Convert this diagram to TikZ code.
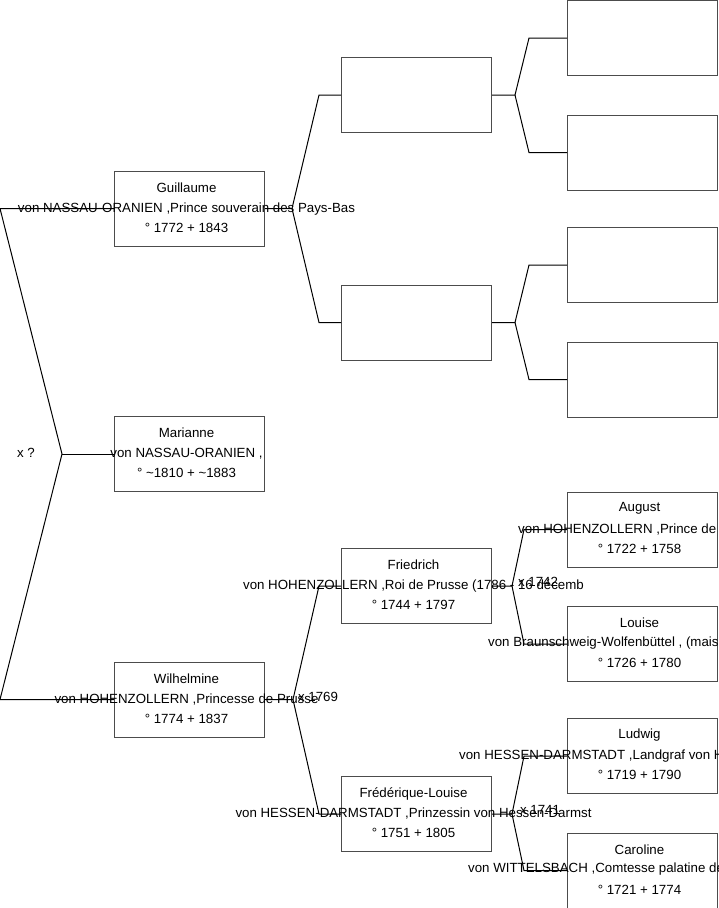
\documentclass[tikz,border=0pt]{standalone}
\usepackage{fontspec}
\setmainfont{Liberation Sans}
\usetikzlibrary{positioning}

\begin{document}
\begin{tikzpicture}[x=1pt, y=-1pt, box/.style={draw=black!70, line width=1pt, rectangle, minimum width=150pt, minimum height=75pt, inner sep=0pt}, txt/.style={align=center, font=\fontsize{13.3}{20}\selectfont, inner sep=0pt}, link/.style={line width=1pt}]
    \useasboundingbox (0,0) rectangle (719,908);
    \clip (0,0) rectangle (719,908);

    % Generation 1
    \node[box] (guillaume) at (189.5,208.5) {};
    \node[box] (marianne) at (189.5,454) {};
    \node[box] (wilhelmine) at (189.5,699.5) {};
    \node[txt] (tGuillaume) at ([xshift=-3pt, yshift=1pt]guillaume.center) {Guillaume\\von NASSAU-ORANIEN ,Prince souverain des Pays-Bas\\° 1772 + 1843};
    \node[txt] (tMarianne) at ([xshift=-3pt, yshift=1pt]marianne.center) {Marianne\\von NASSAU-ORANIEN ,\\° \textasciitilde1810 + \textasciitilde1883};
    \node[txt] (tWilhelmine) at ([xshift=-3pt, yshift=1pt]wilhelmine.center) {Wilhelmine\\von HOHENZOLLERN ,Princesse de Prusse\\° 1774 + 1837};

    % Generation 2
    \node[box] (pA) at (416.5,95) {};
    \node[box, below=151.5pt of pA] (pB) {};
    \node[box] (friedrich) at (416.5,586) {};
    \node[box, below=152pt of friedrich] (frederique) {};
    \node[txt] (tFriedrich) at ([xshift=-3pt, yshift=1pt]friedrich.center) {Friedrich\\von HOHENZOLLERN ,Roi de Prusse (1786 - 16 décemb\\° 1744 + 1797};
    \node[txt] (tFrederique) at ([xshift=-3pt, yshift=1pt]frederique.center) {Frédérique-Louise\\von HESSEN-DARMSTADT ,Prinzessin von Hessen-Darmst\\° 1751 + 1805};

    % Generation 3
    \node[box] (gA) at (642.5,38) {};
    \node[box, below=38.5pt of gA] (gB) {};
    \node[box] (gC) at (642.5,265) {};
    \node[box, below=38.5pt of gC] (gD) {};
    \node[box] (august) at (642.5,529.5) {};
    \node[box, below=38.5pt of august] (louise) {};
    \node[box] (ludwig) at (642.5,756) {};
    \node[box, below=38.5pt of ludwig] (caroline) {};
    \foreach \who/\name/\dates in {august/August/1722 + 1758, louise/Louise/1726 + 1780, ludwig/Ludwig/1719 + 1790, caroline/Caroline/1721 + 1774} {
        \node[txt] (n\who) at ([xshift=-3pt, yshift=21pt]\who.center) {\name};
        \node[txt] (d\who) at ([xshift=-3pt, yshift=-19pt]\who.center) {° \dates};
    }
    \node[txt, anchor=west] (vAugust) at (518,530) {von HOHENZOLLERN ,Prince de};
    \node[txt, anchor=west] (vLouise) at (488,643) {von Braunschweig-Wolfenbüttel , (mais};
    \node[txt, anchor=west] (vLudwig) at (459,756) {von HESSEN-DARMSTADT ,Landgraf von H};
    \node[txt, anchor=west] (vCaroline) at (468,869.5) {von WITTELSBACH ,Comtesse palatine de};

    % Links
    \coordinate (fRoot) at (62,454);
    \coordinate (eTop) at (0,208.5);
    \coordinate (eBot) at (0,699.5);
    \draw[link] (guillaume.west) -- (eTop) -- (fRoot) -- (eBot) -- (wilhelmine.west);
    \draw[link] (fRoot) -- (marianne.west);
    \foreach \p/\a/\b/\d/\e in {guillaume/pA/pB/27/22, wilhelmine/friedrich/frederique/28/22, pA/gA/gB/23/38, pB/gC/gD/23/38, friedrich/august/louise/20/43, frederique/ludwig/caroline/20/43} {
        \draw[link] (\p.east) -- ++(\d,0) coordinate (f\p) -- ([xshift=-\e pt]\a.west) -- (\a.west);
        \draw[link] (f\p) -- ([xshift=-\e pt]\b.west) -- (\b.west);
    }

    % Marriages
    \node[txt] (mRoot) at (26,453) {x ?};
    \node[txt] (m1769) at (318,697) {x 1769};
    \node[txt] (m1742) at (538,582) {x 1742};
    \node[txt] (m1741) at (540,810) {x 1741};
\end{tikzpicture}
\end{document}
